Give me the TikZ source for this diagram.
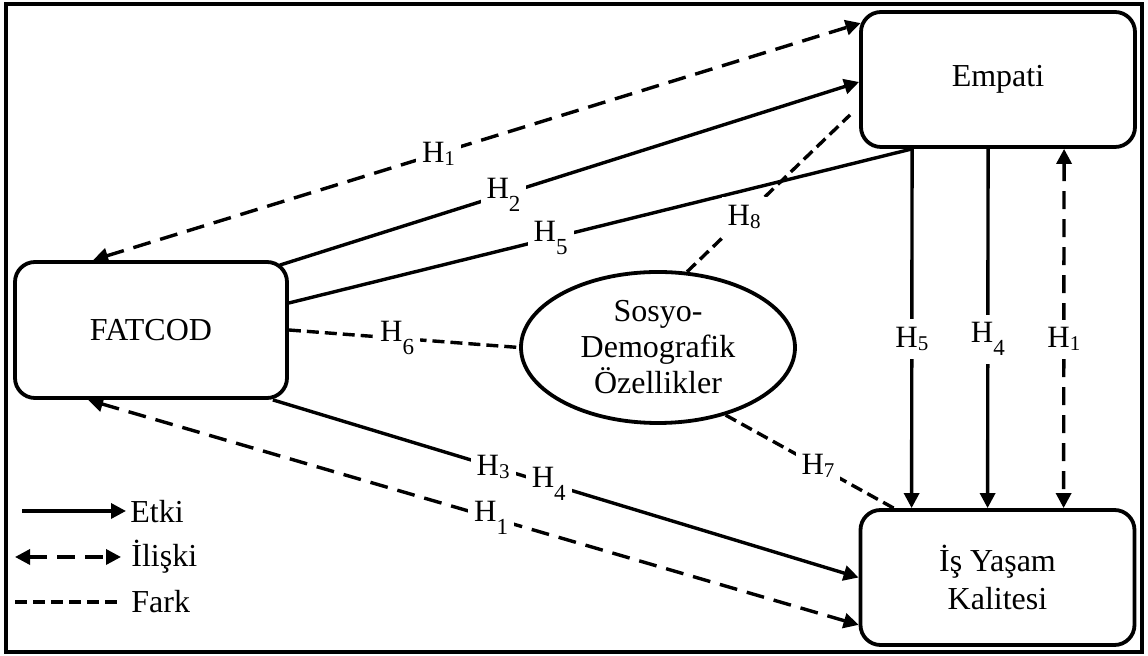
\documentclass[tikz,border=0pt]{standalone}
\usepackage{fontspec}
\setmainfont{Liberation Serif}
\usetikzlibrary{arrows.meta,calc,shapes.geometric}
\newcommand{\hlabA}[1]{H\raisebox{-0.1em}{\fontsize{10.5}{10.5}\selectfont #1}}
\newcommand{\hlabB}[1]{H\raisebox{-0.42em}{\fontsize{11.5}{11.5}\selectfont #1}}
\begin{document}
\begin{tikzpicture}[x=0.5pt,y=-0.5pt,
  box/.style={draw,line width=1.9pt,rounded corners=10pt,minimum width=137pt,minimum height=67.5pt,inner sep=0pt,align=center,font=\fontsize{16}{19}\selectfont},
  ell/.style={draw,ellipse,line width=1.9pt,minimum width=137pt,minimum height=75.5pt,inner sep=0pt,align=center,font=\fontsize{16}{18}\selectfont},
  conn/.style={line width=1.7pt},
  etki/.style={conn,-{Triangle[length=7.5pt,width=7.5pt]}},
  iliski/.style={conn,{Triangle[length=7.5pt,width=7.5pt]}-{Triangle[length=7.5pt,width=7.5pt]},dash pattern=on 9pt off 5pt},
  fark/.style={conn,dash pattern=on 6pt off 3pt},
  hl/.style={fill=white,inner xsep=3pt,inner ysep=4pt,font=\fontsize{15.5}{15.5}\selectfont},
  legtext/.style={anchor=base west,inner sep=0pt,font=\fontsize{16}{19}\selectfont},
]
\useasboundingbox (0,0) rectangle (1148,656);
\draw[line width=1.8pt] (6,4) rectangle (1142,652);

\node[box] (emp) at (998,79.5) {Empati};
\node[box,minimum width=136pt,minimum height=68pt] (fat) at (151,330) {FATCOD};
\node[box] (iyk) at (997.5,577.5) {İş Yaşam\\Kalitesi};
\node[ell] (soc) at (658,347.5) {Sosyo-\\Demografik\\Özellikler};

\draw[iliski] ($(fat.north west)+(80,0)$) -- node[hl,pos=0.45]{\hlabA{1}} ($(emp.north west)+(1.5,13)$);
\draw[etki] ($(fat.north east)+(-9,5)$) -- node[hl,pos=0.386]{\hlabB{2}} ($(emp.west)+(0,2.5)$);
\draw[conn] ($(fat.east)+(0,-27)$) -- node[hl,pos=0.42]{\hlabB{5}} ($(emp.south west)+(53,0)$);
\draw[fark] (soc.69) -- node[hl,pos=0.35]{\hlabA{8}} ($(emp.south west)+(-9,-34)$);
\draw[fark] (fat.east) -- node[hl,pos=0.47]{\hlabB{6}} (soc.west);
\draw[fark] (soc.-45) -- node[hl,pos=0.55]{\hlabA{7}} ($(iyk.north west)+(35,0)$);
\draw[etki] ($(fat.south east)+(-16,0)$) -- node[hl,pos=0.376]{\hlabA{3}} node[hl,pos=0.471]{\hlabB{4}} (iyk.west);
\draw[iliski] ($(fat.south west)+(75,0)$) -- node[hl,pos=0.523]{\hlabB{1}} ($(iyk.south west)+(0,-22)$);

\draw[etki] ($(emp.south west)+(53,0)$) -- node[hl,pos=0.53]{\hlabA{5}} ($(iyk.north west)+(53,0)$);
\draw[etki] ($(emp.south west)+(129,0)$) -- node[hl,pos=0.53]{\hlabB{4}} ($(iyk.north west)+(129,0)$);
\draw[iliski] ($(emp.south west)+(205,0)$) -- node[hl,pos=0.53]{\hlabA{1}} ($(iyk.north west)+(205,0)$);

\coordinate (e1) at (22,511); \coordinate (e2) at (126,511);
\draw[etki] (e1) -- (e2);
\node[legtext] (te) at (130,523) {Etki};
\coordinate (r1) at (15,557); \coordinate (r2) at (121,557);
\draw[iliski] (r1) -- (r2);
\node[legtext] (tr) at (131,567) {İlişki};
\coordinate (f1) at (15,602); \coordinate (f2) at (121,602);
\draw[fark] (f1) -- (f2);
\node[legtext] (tf) at (131,613) {Fark};
\end{tikzpicture}
\end{document}
